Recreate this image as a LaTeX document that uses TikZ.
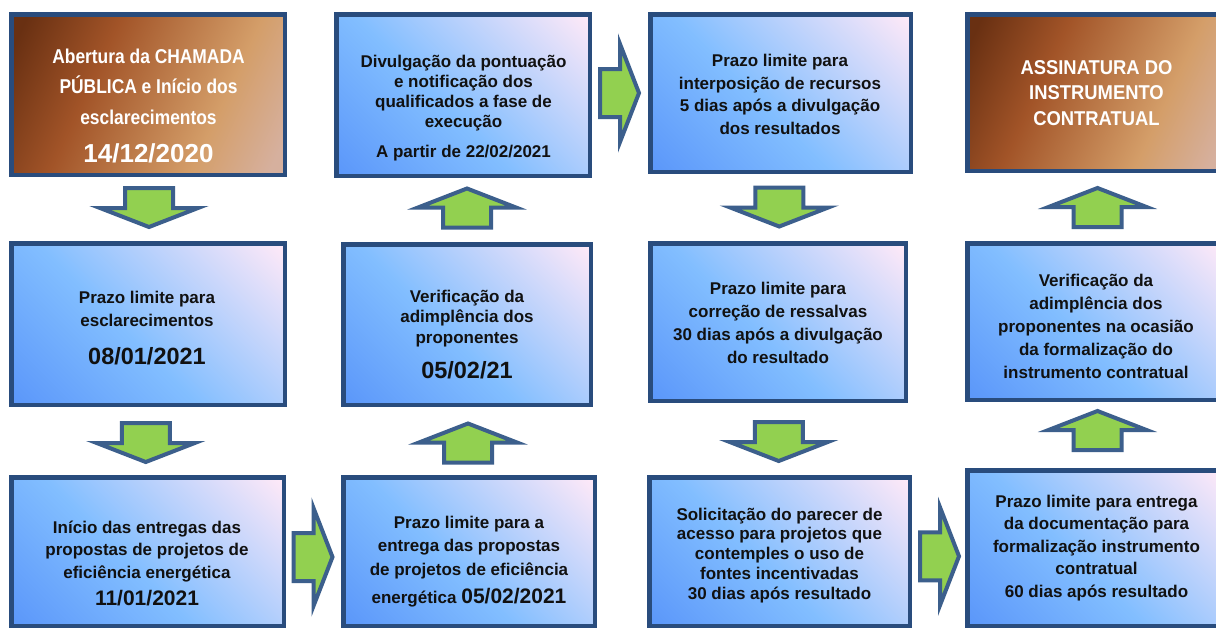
\documentclass[tikz,border=0pt]{standalone}
\usepackage{fontspec}
\setmainfont{Liberation Sans}
\usepackage{graphicx}
\usetikzlibrary{calc}
\definecolor{boxline}{RGB}{41,76,125}
\definecolor{arrline}{RGB}{60,95,140}
\definecolor{arrfill}{RGB}{146,208,80}
\definecolor{bluA}{RGB}{92,152,250}
\definecolor{bluB}{RGB}{130,190,255}
\definecolor{bluC}{RGB}{252,232,248}
\definecolor{brA}{RGB}{105,48,18}
\definecolor{brB}{RGB}{162,84,40}
\definecolor{brC}{RGB}{212,158,105}
\definecolor{brD}{RGB}{214,176,158}
\definecolor{txt}{RGB}{17,17,17}
\pgfdeclarehorizontalshading{bluegrad}{100bp}{color(0bp)=(bluA); color(16bp)=(bluA); color(45bp)=(bluB); color(84bp)=(bluC); color(100bp)=(bluC)}
\pgfdeclarehorizontalshading{browngrad}{100bp}{color(0bp)=(brA); color(20bp)=(brA); color(38bp)=(brB); color(65bp)=(brC); color(80bp)=(brD); color(100bp)=(brD)}
\newcommand\narB[1]{\scalebox{0.87}[1]{#1}}
\newcommand\narE[1]{\scalebox{0.92}[1]{#1}}
\newcommand\dsz[1]{\fontsize{#1}{#1}\selectfont}
\newcommand\bodyfont[1]{\bfseries\fontsize{17}{#1}\selectfont}
\newcommand\whitefont[1]{\bfseries\fontsize{20}{#1}\selectfont}
\tikzset{
  box/.style={draw=boxline, line width=4.5pt, inner sep=0pt},
  bluebox/.style={box, shade, shading=bluegrad, shading angle=45},
  brownbox/.style={box, shade, shading=browngrad, shading angle=-25},
  bodytext/.style={align=center, anchor=base, text=txt, inner sep=0pt, font=\bodyfont{#1}},
  whitetext/.style={align=center, anchor=base, text=white, inner sep=0pt, font=\whitefont{#1}},
  blockarr/.pic={\draw[draw=arrline, fill=arrfill, line width=4pt]
    (-20,-24) -- (0,-24) -- (0,-49) -- (19,0) -- (0,49) -- (0,24) -- (-20,24) -- cycle;}
}
\begin{document}
\lineskiplimit=-50pt
\begin{tikzpicture}[x=1pt,y=-1pt]
\path[use as bounding box, fill=white] (0,0) rectangle (1216,630);
\clip (0,0) rectangle (1216,630);

% boxes
\node[brownbox, minimum width=273.5pt, minimum height=160.5pt] (b1) at (148,94.5) {};
\node[bluebox, minimum width=273.5pt, minimum height=161.5pt] (b2) at (148,324) {};
\node[bluebox, minimum width=272.5pt, minimum height=148.5pt] (b3) at (147.5,551.5) {};
\node[bluebox, minimum width=253.5pt, minimum height=161.5pt] (c1) at (463,95) {};
\node[bluebox, minimum width=247.5pt, minimum height=160.5pt] (c2) at (467,324.5) {};
\node[bluebox, minimum width=251.5pt, minimum height=148.5pt] (c3) at (469,551.5) {};
\node[bluebox, minimum width=260.5pt, minimum height=157.5pt] (d1) at (780.5,93) {};
\node[bluebox, minimum width=255.5pt, minimum height=157.5pt] (d2) at (778,322) {};
\node[bluebox, minimum width=260.5pt, minimum height=148.5pt] (d3) at (779.5,551.5) {};
\node[brownbox, minimum width=256.5pt, minimum height=156.5pt] (e1) at (1095.5,92.5) {};
\node[bluebox, minimum width=256.5pt, minimum height=156.5pt] (e2) at (1095.5,321.5) {};
\node[bluebox, minimum width=256.5pt, minimum height=155.5pt] (e3) at (1095.5,548) {};

% texts (anchored at the baseline of their last line)
\node[whitetext=30.5] (tb1) at (148.5,162) {\narB{Abertura da CHAMADA}\\\narB{PÚBLICA e Início dos}\\\narB{esclarecimentos}\\[7.5pt]{\dsz{26}14/12/2020}};
\node[bodytext=23] (tb2) at (147,364) {Prazo limite para\\esclarecimentos\\[15pt]{\dsz{23.5}08/01/2021}};
\node[bodytext=22.5] (tb3) at (147,605) {Início das entregas das\\propostas de projetos de\\eficiência energética\\[4.5pt]{\dsz{21}11/01/2021}};
\node[bodytext=20] (tc1) at (463.5,157) {Divulgação da pontuação\\e notificação dos\\qualificados a fase de\\execução\\[10pt]A partir de 22/02/2021};
\node[bodytext=20.5] (tc2) at (467,378) {Verificação da\\adimplência dos\\proponentes\\[14.5pt]{\dsz{23.5}05/02/21}};
\node[bodytext=23.5] (tc3) at (469,603) {Prazo limite para a\\entrega das propostas\\de projetos de eficiência\\[4.5pt]energética {\dsz{21}05/02/2021}};
\node[bodytext=22.5] (td1) at (780,134) {Prazo limite para\\interposição de recursos\\5 dias após a divulgação\\dos resultados};
\node[bodytext=22.7] (td2) at (778,363) {Prazo limite para\\correção de ressalvas\\30 dias após a divulgação\\do resultado};
\node[bodytext=19.7] (td3) at (779.5,599) {Solicitação do parecer de\\acesso para projetos que\\contemples o uso de\\fontes incentivadas\\30 dias após resultado};
\node[whitetext=25.5] (te1) at (1096.5,125) {\narE{ASSINATURA DO}\\\narE{INSTRUMENTO}\\\narE{CONTRATUAL}};
\node[bodytext=23] (te2) at (1096,378) {Verificação da\\adimplência dos\\proponentes na ocasião\\da formalização do\\instrumento contratual};
\node[bodytext=22.5] (te3) at (1096.5,597) {Prazo limite para entrega\\da documentação para\\formalização instrumento\\contratual\\60 dias após resultado};

% block arrows
\pic[rotate=-90] at ($(b1.south)!0.5!(b2.north)+(1,-1)$) {blockarr};
\pic[rotate=-90] at ($(b2.south)!0.5!(b3.north)+(-2,2)$) {blockarr};
\pic at ($(b3.east)!0.5!(c3.west)+(0,5.5)$) {blockarr};
\pic[rotate=90] at ($(c3.north)!0.5!(c2.south)+(0,1.5)$) {blockarr};
\pic[rotate=90] at ($(c2.north)!0.5!(c1.south)+(2,-2.5)$) {blockarr};
\pic at ($(c1.east)!0.5!(d1.west)+(0,-1)$) {blockarr};
\pic[rotate=-90] at ($(d1.south)!0.5!(d2.north)$) {blockarr};
\pic[rotate=-90] at ($(d2.south)!0.5!(d3.north)+(0,3)$) {blockarr};
\pic at ($(d3.east)!0.5!(e3.west)+(1.5,6.5)$) {blockarr};
\pic[rotate=90] at ($(e3.north)!0.5!(e2.south)+(2,-5)$) {blockarr};
\pic[rotate=90] at ($(e2.north)!0.5!(e1.south)+(2,0)$) {blockarr};
\end{tikzpicture}
\end{document}
